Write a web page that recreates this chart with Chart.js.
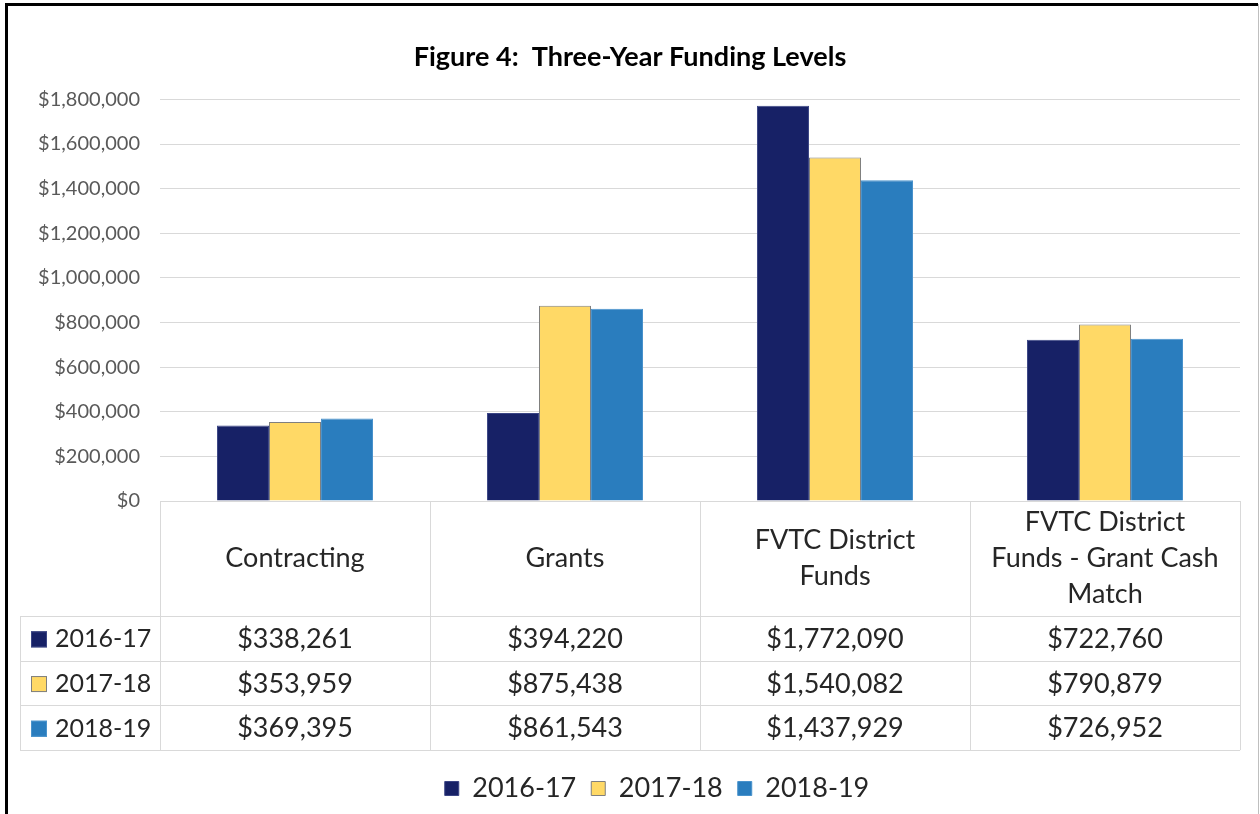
<!DOCTYPE html>
<html>
<head>
<meta charset="utf-8">
<script src="https://cdn.jsdelivr.net/npm/chart.js@4"></script>
<style>
    html, body { margin: 0; padding: 0; background: #ffffff; }
    #wrap { width: 1260px; height: 814px; position: relative; }
</style>
</head>
<body>
<div id="wrap"><canvas id="fundingChart" width="1260" height="814"></canvas></div>
<script>
// Figure 4 data
const categories = [
    ['Contracting'],
    ['Grants'],
    ['FVTC District', 'Funds'],
    ['FVTC District', 'Funds - Grant Cash', 'Match']
];
const seriesNames = ['2016-17', '2017-18', '2018-19'];
const values1617 = [338261, 394220, 1772090, 722760];
const values1718 = [353959, 875438, 1540082, 790879];
const values1819 = [369395, 861543, 1437929, 726952];
const seriesColors = ['#172166', '#FFD966', '#2A7DBE'];
const seriesBorders = ['#3b4585', '#7f7f7f', '#4a93cc'];

const FONT = 'Lato, "Open Sans", sans-serif';
const money = v => '$' + v.toLocaleString('en-US');

// draws the outer frame and the data table under the plot
const tablePlugin = {
    id: 'dataTable',
    afterLayout(chart) {
        // legend sits a little right of centre in the original
        if (chart.legend) {
            chart.legend.left += 27;
            chart.legend.right += 27;
        }
    },
    beforeDraw(chart) {
        const c = chart.ctx;
        c.save();
        c.fillStyle = '#ffffff';
        c.fillRect(0, 0, chart.width, chart.height);
        c.strokeStyle = '#000000';
        c.lineWidth = 3;
        c.beginPath();
        c.moveTo(6.5, 814);
        c.lineTo(6.5, 4.5);
        c.lineTo(1258, 4.5);
        c.stroke();
        c.strokeStyle = '#bfbfbf';
        c.lineWidth = 1;
        c.beginPath();
        c.moveTo(1258.5, 4);
        c.lineTo(1258.5, 814);
        c.stroke();
        c.restore();
    },
    afterDraw(chart) {
        const c = chart.ctx;
        const area = chart.chartArea;
        const x = chart.scales.x;
        const n = categories.length;
        const colW = (area.right - area.left) / n;
        const top = area.bottom;
        const headBottom = top + 115;
        const rowH = 44.7;
        const leftEdge = 20;
        const rows = [values1617, values1718, values1819];
        const bottom = headBottom + rowH * rows.length;

        c.save();
        c.strokeStyle = '#d9d9d9';
        c.lineWidth = 1;
        c.beginPath();
        // header top line
        c.moveTo(area.left, Math.round(top) + 0.5);
        c.lineTo(area.right, Math.round(top) + 0.5);
        // vertical lines
        for (let i = 0; i <= n; i++) {
            const vx = Math.round(area.left + i * colW) + 0.5;
            c.moveTo(vx, top);
            c.lineTo(vx, bottom);
        }
        c.moveTo(leftEdge + 0.5, headBottom);
        c.lineTo(leftEdge + 0.5, bottom);
        // horizontal row lines
        for (let r = 0; r <= rows.length; r++) {
            const hy = Math.round(headBottom + r * rowH) + 0.5;
            c.moveTo(leftEdge, hy);
            c.lineTo(area.right, hy);
        }
        c.stroke();

        c.fillStyle = '#262626';
        c.textAlign = 'center';
        c.textBaseline = 'middle';
        c.font = '27px ' + FONT;
        // header labels
        categories.forEach((lines, i) => {
            const cx = x.getPixelForValue(i);
            const cy = (top + headBottom) / 2;
            const lh = 36;
            lines.forEach((t, k) => {
                c.fillText(t, cx, cy + (k - (lines.length - 1) / 2) * lh);
            });
        });
        // rows
        rows.forEach((vals, r) => {
            const cy = headBottom + r * rowH + rowH / 2 + 1;
            c.fillStyle = seriesColors[r];
            c.fillRect(leftEdge + 11, cy - 8, 16, 16);
            c.strokeStyle = seriesBorders[r];
            c.strokeRect(leftEdge + 11.5, cy - 7.5, 15, 15);
            c.fillStyle = '#262626';
            c.textAlign = 'left';
            c.font = '25px ' + FONT;
            c.fillText(seriesNames[r], leftEdge + 35, cy);
            c.font = '27px ' + FONT;
            c.textAlign = 'center';
            vals.forEach((v, i) => {
                c.fillText(money(v), x.getPixelForValue(i), cy);
            });
        });
        c.restore();
    }
};

const datasets = [values1617, values1718, values1819].map((vals, i) => ({
    label: seriesNames[i],
    data: vals,
    backgroundColor: seriesColors[i],
    borderColor: seriesBorders[i],
    borderWidth: 1,
    categoryPercentage: 0.578,
    barPercentage: 1.0
}));

new Chart(document.getElementById('fundingChart'), {
    type: 'bar',
    data: {
        labels: categories.map(l => l.join(' ')),
        datasets: datasets
    },
    plugins: [tablePlugin],
    options: {
        responsive: false,
        animation: false,
        layout: {
            padding: { left: 20, right: 20, top: 0, bottom: 2 }
        },
        plugins: {
            title: {
                display: true,
                text: 'Figure 4:  Three-Year Funding Levels',
                color: '#000000',
                font: { family: FONT, size: 27, weight: 'bold' },
                padding: { top: 41, bottom: 26 }
            },
            legend: {
                display: true,
                position: 'bottom',
                labels: {
                    color: '#262626',
                    font: { family: FONT, size: 27 },
                    boxWidth: 14,
                    boxHeight: 14,
                    padding: 15
                }
            },
            tooltip: { enabled: false }
        },
        scales: {
            x: {
                grid: { display: false },
                border: { display: false },
                ticks: { display: false },
                afterFit: function (scale) {
                    scale.height = 259;
                }
            },
            y: {
                min: 0,
                max: 1800000,
                ticks: {
                    stepSize: 200000,
                    color: '#595959',
                    padding: 20,
                    font: { family: FONT, size: 20 },
                    callback: v => money(v)
                },
                grid: { color: '#d9d9d9', drawTicks: false },
                border: { display: false },
                afterFit: function (scale) {
                    scale.width = 140;
                }
            }
        }
    }
});
</script>
</body>
</html>
